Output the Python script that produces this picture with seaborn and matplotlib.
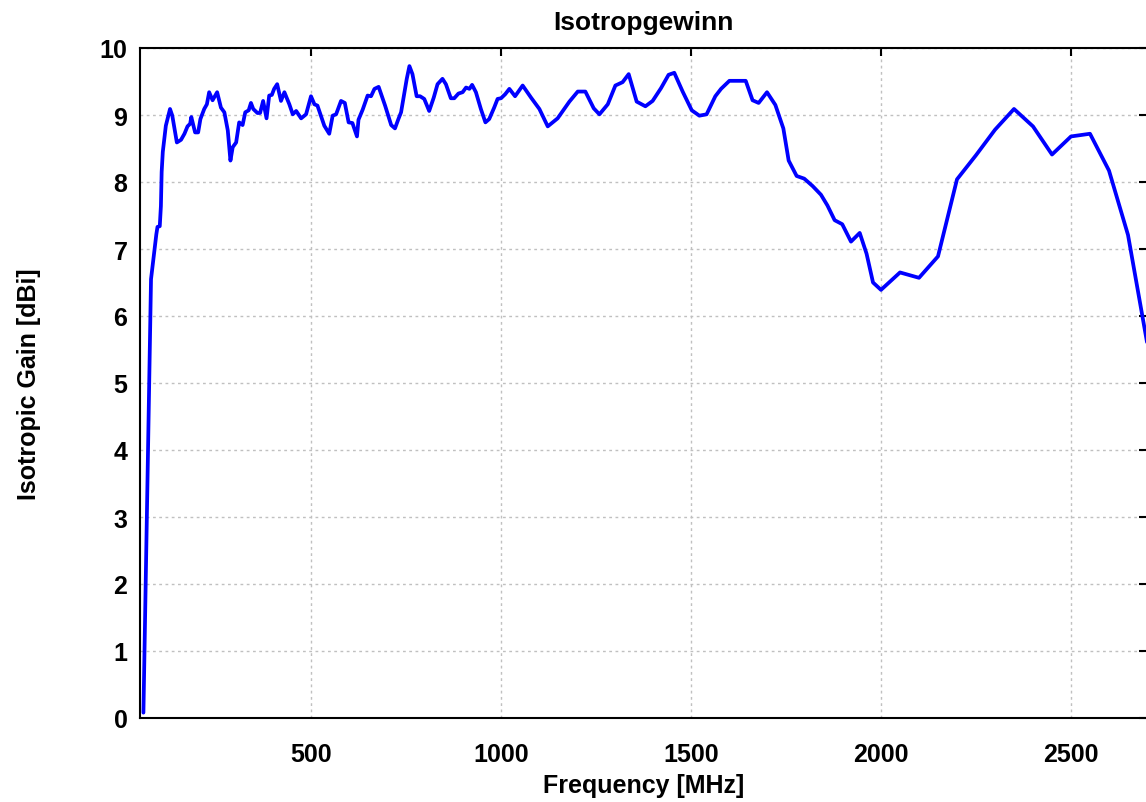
import numpy as np
import pandas as pd
import seaborn as sns
import matplotlib
matplotlib.use("Agg")
import matplotlib.pyplot as plt

# values
freq_mhz = [59, 79, 93, 96, 102, 105, 107, 110, 118, 129, 135, 147, 158, 167, 175,
            182, 185, 195, 203, 209, 219, 226, 232, 241, 253, 263, 272, 281, 288, 294,
            303, 311, 320, 327, 336, 342, 348, 359, 366, 374, 383, 390, 397, 403, 411,
            421, 430, 443, 452, 461, 474, 487, 500, 509, 517, 535, 548, 557, 566, 579,
            589, 599, 609, 621, 625, 636, 649, 658, 667, 678, 695, 711, 721, 730, 737,
            746, 752, 759, 767, 778, 787, 798, 811, 823, 833, 846, 855, 868, 877, 888,
            899, 908, 917, 924, 934, 947, 959, 969, 982, 991,
            1000, 1011, 1022, 1037, 1057, 1079, 1101, 1123, 1149, 1180, 1202, 1222, 1244,
            1259, 1281, 1301, 1320, 1336, 1357, 1380, 1399, 1421, 1441, 1456, 1478, 1502,
            1522, 1541, 1564, 1579, 1601, 1644, 1662, 1678, 1700, 1722, 1743, 1757, 1778,
            1798, 1820, 1842, 1859, 1878, 1898, 1921, 1944, 1962, 1979,
            2000, 2050, 2100, 2150, 2200, 2250, 2300, 2350, 2400, 2450, 2500, 2550, 2600,
            2650, 2700]
gain_dbi = [0.08, 6.55, 7.22, 7.33, 7.34, 7.64, 8.15, 8.45, 8.84, 9.09, 8.99, 8.59, 8.63, 8.72, 8.83,
            8.87, 8.97, 8.74, 8.74, 8.94, 9.09, 9.16, 9.34, 9.22, 9.34, 9.11, 9.04, 8.77, 8.32, 8.52,
            8.59, 8.89, 8.85, 9.04, 9.07, 9.18, 9.09, 9.03, 9.03, 9.21, 8.95, 9.29, 9.30, 9.39, 9.46,
            9.21, 9.34, 9.16, 9.01, 9.06, 8.95, 9.01, 9.28, 9.16, 9.14, 8.84, 8.72, 8.99, 9.01, 9.21,
            9.18, 8.89, 8.88, 8.68, 8.93, 9.08, 9.29, 9.28, 9.39, 9.42, 9.14, 8.85, 8.80, 8.94, 9.04,
            9.34, 9.54, 9.73, 9.61, 9.28, 9.28, 9.24, 9.06, 9.26, 9.46, 9.54, 9.46, 9.25, 9.25, 9.32,
            9.34, 9.41, 9.39, 9.45, 9.34, 9.09, 8.89, 8.94, 9.11, 9.24,
            9.25, 9.31, 9.39, 9.28, 9.44, 9.26, 9.09, 8.83, 8.95, 9.20, 9.35, 9.35, 9.10,
            9.01, 9.16, 9.44, 9.49, 9.61, 9.20, 9.13, 9.21, 9.40, 9.60, 9.63, 9.35, 9.07,
            8.99, 9.01, 9.28, 9.39, 9.51, 9.51, 9.22, 9.18, 9.34, 9.15, 8.80, 8.32, 8.09,
            8.05, 7.94, 7.81, 7.65, 7.43, 7.37, 7.11, 7.24, 6.93, 6.50,
            6.39, 6.65, 6.57, 6.89, 8.04, 8.40, 8.78, 9.09, 8.83, 8.41, 8.68, 8.72, 8.17,
            7.21, 5.61]

x_ticks = [500, 1000, 1500, 2000, 2500]
y_ticks = list(range(0, 11))

df = pd.DataFrame({"freq": freq_mhz, "gain": gain_dbi})

sns.set_theme(style="white")
plt.rcParams['font.family'] = ['Liberation Sans', 'DejaVu Sans']
plt.rcParams['font.weight'] = 'bold'
plt.rcParams['text.color'] = 'black'
plt.rcParams['axes.labelcolor'] = 'black'

fig = plt.figure(figsize=(11.46, 8.03), dpi=100)
ax = fig.add_axes([140 / 1146, 84 / 803, 1007 / 1146, 670 / 803])

sns.lineplot(data=df, x="freq", y="gain", ax=ax, color="#0000ff",
             linewidth=2.7, sort=False, estimator=None)

ax.set_xlim(50, 2700)
ax.set_ylim(0, 10)
ax.set_xticks(x_ticks)
ax.set_yticks(y_ticks)
ax.grid(True, color="#c0c0c0", linestyle=(0, (2, 2.5)), linewidth=1.0)
ax.tick_params(direction="in", length=6, width=1.5, top=True, right=True,
               labelsize=18, colors="black")
ax.tick_params(axis="x", pad=17)
ax.tick_params(axis="y", pad=9)
for lab in ax.get_xticklabels() + ax.get_yticklabels():
    lab.set_fontweight("bold")
for s in ax.spines.values():
    s.set_color("black")
    s.set_linewidth(1.5)

ax.set_title("Isotropgewinn", fontsize=19, fontweight="bold", pad=14, color="black")
ax.set_xlabel("Frequency [MHz]", fontsize=18, fontweight="bold", labelpad=5.5)
ax.set_ylabel("Isotropic Gain [dBi]", fontsize=18, fontweight="bold", labelpad=42)

fig.savefig("out.png", dpi=100)
